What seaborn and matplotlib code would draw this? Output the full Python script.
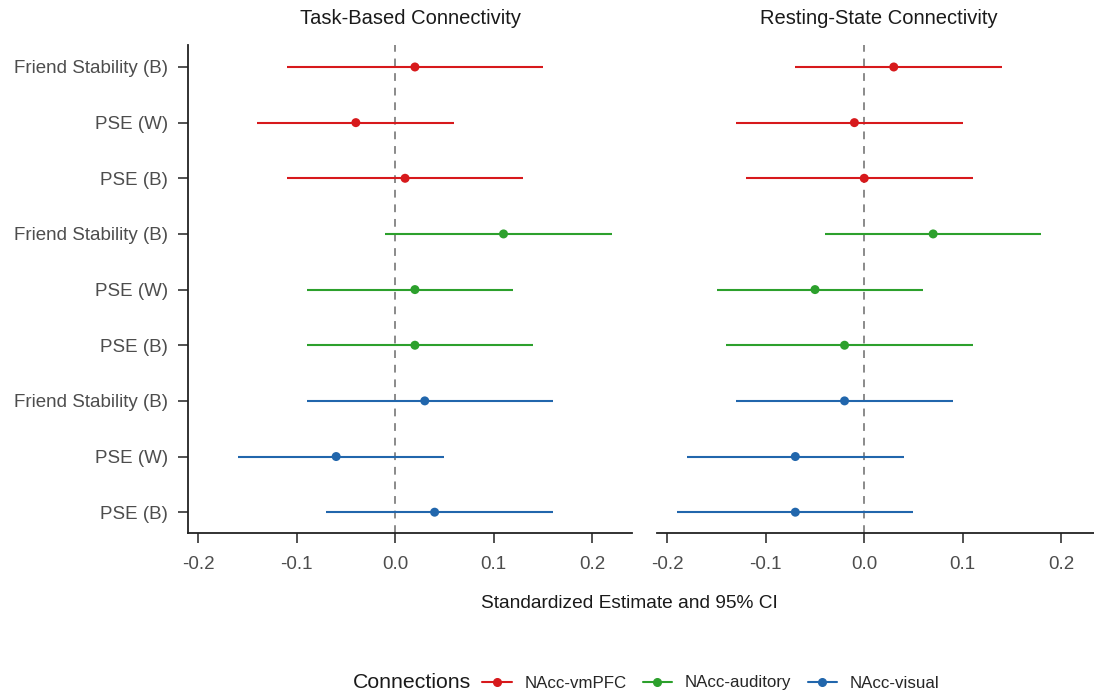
import numpy as np
import pandas as pd
import matplotlib
matplotlib.use("Agg")
import matplotlib.pyplot as plt
from matplotlib.lines import Line2D
import seaborn as sns

# ---------------- data ----------------
predictors = ["Friend Stability (B)", "PSE (W)", "PSE (B)"]
connections = ["NAcc-vmPFC", "NAcc-auditory", "NAcc-visual"]
panels = ["Task-Based Connectivity", "Resting-State Connectivity"]
colors = ["#D7191C", "#2CA02C", "#2166AC"]

# order: vmPFC (FS, W, B), auditory (FS, W, B), visual (FS, W, B)
task_est = [0.02, -0.04, 0.01, 0.11, 0.02, 0.02, 0.03, -0.06, 0.04]
task_lo = [-0.11, -0.14, -0.11, -0.01, -0.09, -0.09, -0.09, -0.16, -0.07]
task_hi = [0.15, 0.06, 0.13, 0.22, 0.12, 0.14, 0.16, 0.05, 0.16]

rest_est = [0.03, -0.01, 0.00, 0.07, -0.05, -0.02, -0.02, -0.07, -0.07]
rest_lo = [-0.07, -0.13, -0.12, -0.04, -0.15, -0.14, -0.13, -0.18, -0.19]
rest_hi = [0.14, 0.10, 0.11, 0.18, 0.06, 0.11, 0.09, 0.04, 0.05]

x_ticks = [-0.2, -0.1, 0.0, 0.1, 0.2]
x_tick_labels = ["-0.2", "-0.1", "0.0", "0.1", "0.2"]

rows = []
for p, (est, lo, hi) in zip(panels, [(task_est, task_lo, task_hi),
                                      (rest_est, rest_lo, rest_hi)]):
    k = 0
    for c in connections:
        for pr in predictors:
            rows.append(dict(panel=p, connection=c, predictor=pr, row=k,
                             est=est[k], lo=lo[k], hi=hi[k]))
            k += 1
df = pd.DataFrame(rows)

# ---------------- figure ----------------
sns.set_theme(style="white")
plt.rcParams["font.family"] = ["Liberation Sans", "DejaVu Sans"]

W, H = 1094, 694
fig = plt.figure(figsize=(W / 100, H / 100), dpi=100)

top_px, bot_px = 45, 532.5
pw = 444
lefts = [188, 657]
axes = []
for lp in lefts:
    ax = fig.add_axes([lp / W, (H - bot_px) / H, pw / W, (bot_px - top_px) / H])
    axes.append(ax)

xmin = df.lo.min()
xmax = df.hi.max()
pad = 0.05 * (xmax - xmin)
palette = dict(zip(connections, colors))

for ax, p, lp in zip(axes, panels, lefts):
    d = df[df.panel == p]
    ax.axvline(0, color="#8a8a8a", lw=1.4, ls=(0, (4, 3.5)), zorder=1)
    for _, r in d.iterrows():
        ax.plot([r.lo, r.hi], [r.row, r.row], color=palette[r.connection],
                lw=1.5, solid_capstyle="butt", zorder=2)
    sns.scatterplot(data=d, x="est", y="row", hue="connection", palette=palette,
                    s=42, edgecolor="none", legend=False, ax=ax, zorder=3)
    ax.set_xlim(xmin - pad, xmax + pad)
    ax.set_ylim(8.365, -0.395)
    ax.set_xticks(x_ticks)
    ax.set_xticklabels(x_tick_labels)
    ax.set_xlabel("")
    ax.set_ylabel("")
    fig.text((lp + pw / 2) / W, 1 - 18 / H, p, ha="center", va="center",
             fontsize=14.5, color="#1a1a1a")
    for s in ["top", "right"]:
        ax.spines[s].set_visible(False)
    ax.spines["bottom"].set_color("#222222")
    ax.spines["bottom"].set_linewidth(1.3)
    ax.spines["left"].set_color("#222222")
    ax.spines["left"].set_linewidth(1.3)
    ax.tick_params(axis="both", which="both", direction="out", length=7,
                   width=1.2, color="#333333", labelcolor="#4d4d4d",
                   labelsize=13.5, bottom=True, left=True)
    ax.tick_params(axis="x", pad=10)
    ax.tick_params(axis="y", pad=7.5)
    ax.patch.set_alpha(0)

axes[0].set_yticks(range(9))
axes[0].set_yticklabels(predictors * 3)
axes[1].set_yticks([])
axes[1].spines["left"].set_visible(False)

fig.text(629 / W, 1 - 604 / H, "Standardized Estimate and 95% CI",
         ha="center", va="center", fontsize=13.8, color="#1a1a1a")

# legend
fig.text(353 / W, 1 - 682 / H, "Connections", ha="left", va="center",
         fontsize=15.3, color="#1a1a1a")
handles = [Line2D([0], [0], color=c, lw=1.5, marker="o", markersize=5.5)
           for c in colors]
fig.legend(handles, connections, loc="center left",
           bbox_to_anchor=(482 / W, 1 - 683 / H), ncol=3, frameon=False,
           fontsize=12.2, handlelength=1.75, handletextpad=0.75,
           columnspacing=0.95, borderaxespad=0, borderpad=0)

fig.savefig("out.png", dpi=100)
